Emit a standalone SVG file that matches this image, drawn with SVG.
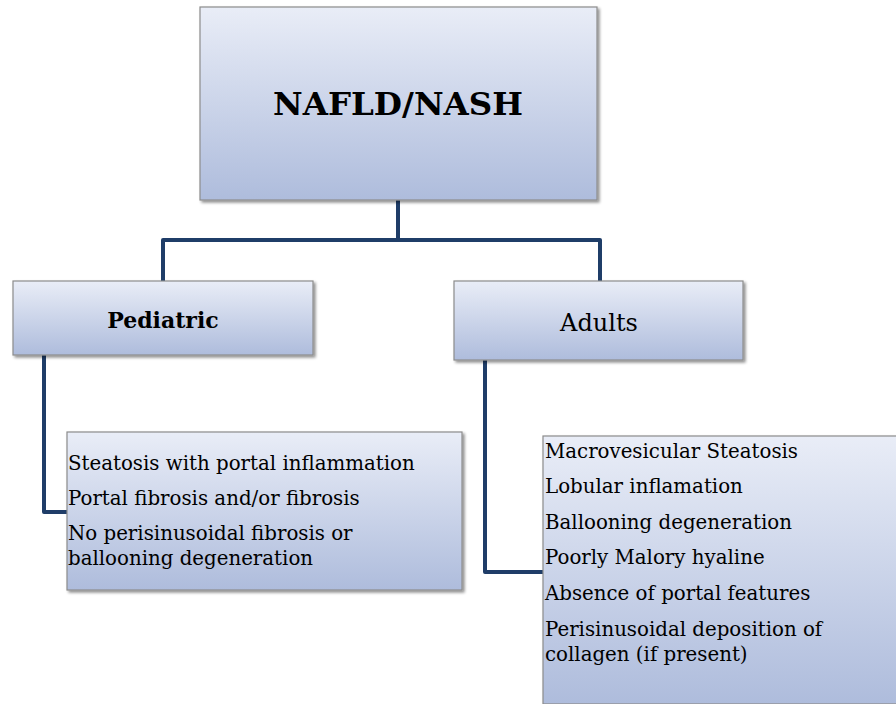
<svg xmlns="http://www.w3.org/2000/svg" width="896" height="704" viewBox="0 0 896 704">
  <defs>
    <linearGradient id="boxFill" x1="0" y1="0" x2="0" y2="1">
      <stop offset="0" stop-color="#e9edf7"/>
      <stop offset="1" stop-color="#aebcdc"/>
    </linearGradient>
    <filter id="shadow" x="-5%" y="-5%" width="115%" height="115%">
      <feGaussianBlur in="SourceAlpha" stdDeviation="1.5"/>
      <feOffset dx="2" dy="2" result="b"/>
      <feComponentTransfer><feFuncA type="linear" slope="0.45"/></feComponentTransfer>
      <feMerge><feMergeNode/><feMergeNode in="SourceGraphic"/></feMerge>
    </filter>
  </defs>
  <style>
    .box { fill: url(#boxFill); stroke: #8c8c8c; stroke-width: 1.2; filter: url(#shadow); }
    .link { fill: none; stroke: #1f3d68; stroke-width: 4; stroke-linejoin: round; }
    text { font-family: 'DejaVu Serif', serif; fill: #000; }
    .item { font-size: 19.8px; }
  </style>
  <rect width="896" height="704" fill="#ffffff"/>

  <g id="connectors">
    <path class="link" d="M398 200 V240 H163 V282"/>
    <path class="link" d="M398 240 H600 V282"/>
    <path class="link" d="M44 355 V512 H68"/>
    <path class="link" d="M485 360 V572 H544"/>
  </g>

  <g id="root">
    <rect class="box" x="200" y="7" width="397" height="193"/>
    <text x="398" y="115" text-anchor="middle" font-size="32.5" font-weight="bold">NAFLD/NASH</text>
  </g>

  <g id="pediatric">
    <rect class="box" x="13" y="281" width="300" height="74"/>
    <text x="163" y="328" text-anchor="middle" font-size="22" font-weight="bold">Pediatric</text>
  </g>

  <g id="adults">
    <rect class="box" x="454" y="281" width="289" height="79"/>
    <text x="599" y="331" text-anchor="middle" font-size="24">Adults</text>
  </g>

  <g id="pediatric-features">
    <rect class="box" x="67" y="432" width="395" height="158"/>
    <text class="item" x="68" y="470">Steatosis with portal inflammation</text>
    <text class="item" x="68" y="505">Portal fibrosis and/or fibrosis</text>
    <text class="item" x="68" y="540">No perisinusoidal fibrosis or</text>
    <text class="item" x="68" y="565">ballooning degeneration</text>
  </g>

  <g id="adult-features">
    <rect class="box" x="543" y="436" width="360" height="268"/>
    <text class="item" x="545" y="458">Macrovesicular Steatosis</text>
    <text class="item" x="545" y="493">Lobular inflamation</text>
    <text class="item" x="545" y="529">Ballooning degeneration</text>
    <text class="item" x="545" y="564">Poorly Malory hyaline</text>
    <text class="item" x="545" y="600">Absence of portal  features</text>
    <text class="item" x="545" y="636">Perisinusoidal deposition of</text>
    <text class="item" x="545" y="661">collagen (if present)</text>
  </g>
</svg>
